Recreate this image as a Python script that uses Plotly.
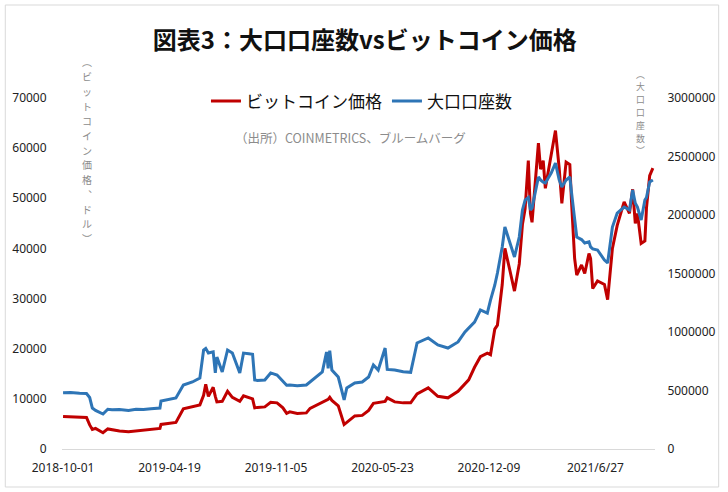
import plotly.graph_objects as go

# ---- data ----
dates = [
    "2018-10-01", "2018-10-15", "2018-11-01", "2018-11-14", "2018-11-20", "2018-11-25",
    "2018-12-01", "2018-12-15", "2018-12-24", "2019-01-01", "2019-01-15", "2019-02-01",
    "2019-02-15", "2019-03-01", "2019-03-15", "2019-04-01", "2019-04-03", "2019-04-15",
    "2019-05-01", "2019-05-15", "2019-06-01", "2019-06-15", "2019-06-22", "2019-06-26",
    "2019-07-01", "2019-07-10", "2019-07-14", "2019-07-17", "2019-07-27", "2019-08-06",
    "2019-08-15", "2019-08-29", "2019-09-05", "2019-09-15", "2019-09-22", "2019-09-26",
    "2019-10-01", "2019-10-15", "2019-10-26", "2019-11-07", "2019-11-18", "2019-11-25",
    "2019-12-01", "2019-12-15", "2020-01-01", "2020-01-08", "2020-01-20", "2020-01-31",
    "2020-02-08", "2020-02-11", "2020-02-14", "2020-02-18", "2020-03-01", "2020-03-12",
    "2020-03-17", "2020-04-01", "2020-04-15", "2020-04-27", "2020-05-06", "2020-05-15",
    "2020-05-28", "2020-06-01", "2020-06-15", "2020-07-01", "2020-07-15", "2020-07-27",
    "2020-08-17", "2020-09-04", "2020-09-23", "2020-10-12", "2020-10-25", "2020-11-01",
    "2020-11-12", "2020-11-23", "2020-12-06", "2020-12-12", "2020-12-20", "2020-12-25",
    "2021-01-03", "2021-01-08", "2021-01-17", "2021-01-26", "2021-02-04", "2021-02-10",
    "2021-02-15", "2021-02-21", "2021-02-25", "2021-02-28", "2021-03-12", "2021-03-16",
    "2021-03-21", "2021-03-25", "2021-04-05", "2021-04-13", "2021-04-20", "2021-04-25",
    "2021-05-03", "2021-05-10", "2021-05-13", "2021-05-19", "2021-05-23", "2021-06-01",
    "2021-06-07", "2021-06-15", "2021-06-18", "2021-06-22", "2021-07-01", "2021-07-14",
    "2021-07-20", "2021-07-29", "2021-08-07", "2021-08-20", "2021-08-30", "2021-09-05",
    "2021-09-10", "2021-09-14", "2021-09-21", "2021-09-28", "2021-10-01", "2021-10-07",
    "2021-10-13",
]

btc_price = [
    6500, 6400, 6350, 6300, 4800, 3900,
    4100, 3250, 4000, 3800, 3600, 3450,
    3600, 3800, 3900, 4100, 4900, 5100,
    5300, 8000, 8500, 8800, 10700, 12900,
    10500, 12300, 10500, 9400, 9500, 11500,
    10300, 9500, 10600, 10300, 10000, 8200,
    8300, 8400, 9300, 9200, 8200, 7100,
    7400, 7100, 7200, 8100, 8700, 9400,
    9800, 9900, 10300, 9700, 8600, 4900,
    5300, 6600, 6700, 7700, 9100, 9300,
    9500, 10200, 9400, 9200, 9200, 11000,
    12200, 10500, 10200, 11500, 13000, 13800,
    16300, 18400, 19100, 18800, 23900, 24700,
    32800, 40000, 35800, 31500, 36900, 44800,
    47900, 57500, 47000, 45200, 61000, 55800,
    57500, 52000, 58700, 63500, 56000, 49000,
    57200, 56700, 49700, 38000, 34700, 36700,
    35000, 39000, 38000, 32000, 33500, 32800,
    29800, 40000, 44600, 49300, 47000, 51800,
    45000, 47000, 41000, 41500, 48100, 54500,
    56000,
]

large_accounts = [
    480000, 482000, 476000, 474000, 440000, 350000,
    330000, 299000, 340000, 335000, 338000, 330000,
    340000, 338000, 345000, 350000, 410000, 420000,
    436000, 547000, 573000, 607000, 846000, 860000,
    820000, 830000, 650000, 786000, 658000, 846000,
    820000, 650000, 820000, 815000, 810000, 590000,
    585000, 590000, 650000, 632000, 573000, 545000,
    547000, 540000, 547000, 573000, 615000, 658000,
    829000, 690000, 840000, 675000, 615000, 419000,
    521000, 564000, 573000, 615000, 718000, 675000,
    863000, 680000, 675000, 660000, 655000, 906000,
    949000, 889000, 863000, 915000, 1000000, 1034000,
    1085000, 1188000, 1162000, 1273000, 1400000, 1504000,
    1727000, 1897000, 1761000, 1641000, 1812000, 2043000,
    2128000, 2150000, 2043000, 2060000, 2325000, 2300000,
    2280000, 2274000, 2359000, 2444000, 2300000, 2239000,
    2299000, 2325000, 2200000, 1932000, 1812000, 1790000,
    1761000, 1770000, 1727000, 1710000, 1701000, 1615000,
    1590000, 1897000, 2017000, 2068000, 2043000, 2214000,
    2100000, 2068000, 1957000, 2128000, 2150000, 2282000,
    2299000,
]

x_tick_vals = ["2018-10-01", "2019-04-19", "2019-11-05", "2020-05-23", "2020-12-09", "2021-06-27"]
x_tick_text = ["2018-10-01", "2019-04-19", "2019-11-05", "2020-05-23", "2020-12-09", "2021/6/27"]
left_ticks = [0, 10000, 20000, 30000, 40000, 50000, 60000, 70000]
right_ticks = [0, 500000, 1000000, 1500000, 2000000, 2500000, 3000000]

JP = "Noto Sans CJK JP"
NUM = "Noto Sans"

fig = go.Figure()
fig.add_trace(go.Scatter(
    x=dates, y=btc_price, name="ビットコイン価格", mode="lines",
    line=dict(color="#C00000", width=3),
))
fig.add_trace(go.Scatter(
    x=dates, y=large_accounts, name="大口口座数", mode="lines",
    line=dict(color="#2E75B6", width=3), yaxis="y2",
))

fig.update_layout(
    width=728, height=492,
    margin=dict(l=62, r=70, t=98, b=43),
    paper_bgcolor="white", plot_bgcolor="white",
    title=dict(
        text="<b>図表3：大口口座数vsビットコイン価格</b>",
        font=dict(family=JP, size=24, color="#111"),
        x=0.501, xref="container", xanchor="center",
        y=1 - 41 / 492, yref="container", yanchor="middle",
    ),
    showlegend=True,
    legend=dict(
        orientation="h", x=0.505, xanchor="center", y=0.99, yanchor="middle",
        font=dict(family=JP, size=17, color="#111"),
        bgcolor="rgba(0,0,0,0)", itemwidth=30,
    ),
    xaxis=dict(
        type="date", range=["2018-09-29", "2021-10-17"],
        tickvals=x_tick_vals, ticktext=x_tick_text,
        showgrid=False, zeroline=False,
        showline=True, linecolor="#d9d9d9", linewidth=1,
        ticks="outside", ticklen=8, tickcolor="rgba(0,0,0,0)",
        tickfont=dict(family=NUM, size=12, color="#222"),
    ),
    yaxis=dict(
        range=[0, 70000], tickvals=left_ticks, tickformat="d",
        showgrid=False, zeroline=False, showline=False,
        ticks="outside", ticklen=12, tickcolor="rgba(0,0,0,0)",
        tickfont=dict(family=NUM, size=12, color="#222"),
    ),
    yaxis2=dict(
        range=[0, 3000000], tickvals=right_ticks, tickformat="d",
        overlaying="y", side="right",
        showgrid=False, zeroline=False, showline=False,
        ticks="outside", ticklen=9, tickcolor="rgba(0,0,0,0)",
        tickfont=dict(family=NUM, size=12, color="#222"),
    ),
)


# vertical (upright, one glyph per row) axis captions
def vertical_caption(text, x_px, top_px, step_px, size):
    for i, ch in enumerate(text):
        fig.add_annotation(
            text=ch, xref="paper", yref="paper",
            x=(x_px - 62) / 596, y=(449 - (top_px + i * step_px)) / 351,
            showarrow=False, font=dict(family=JP, size=size, color="#8c8c8c"),
            xanchor="center", yanchor="middle",
        )


vertical_caption("︵ビットコイン価格︑ドル︶", 87, 62, 14.7, 10)
vertical_caption("︵大口口座数︶", 643, 74, 12.8, 8.8)

fig.add_annotation(
    text="（出所）COINMETRICS、ブルームバーグ", xref="paper", yref="paper",
    x=(352 - 62) / 596, y=(449 - 137) / 351, showarrow=False,
    font=dict(family=JP, size=12.5, color="#8c8c8c"),
    xanchor="center", yanchor="middle",
)

# light frame around the whole chart
fig.add_shape(
    type="rect", xref="paper", yref="paper",
    x0=(5 - 62) / 596, x1=(722 - 62) / 596, y0=(449 - 487) / 351, y1=(449 - 5) / 351,
    line=dict(color="#d9d9d9", width=1), fillcolor="rgba(0,0,0,0)",
)

# page body has an 8px default margin; drop it so the chart fills the window
fig.write_html(
    "out.html",
    config={"displayModeBar": False},
    post_script="document.body.style.margin = '0';",
)
